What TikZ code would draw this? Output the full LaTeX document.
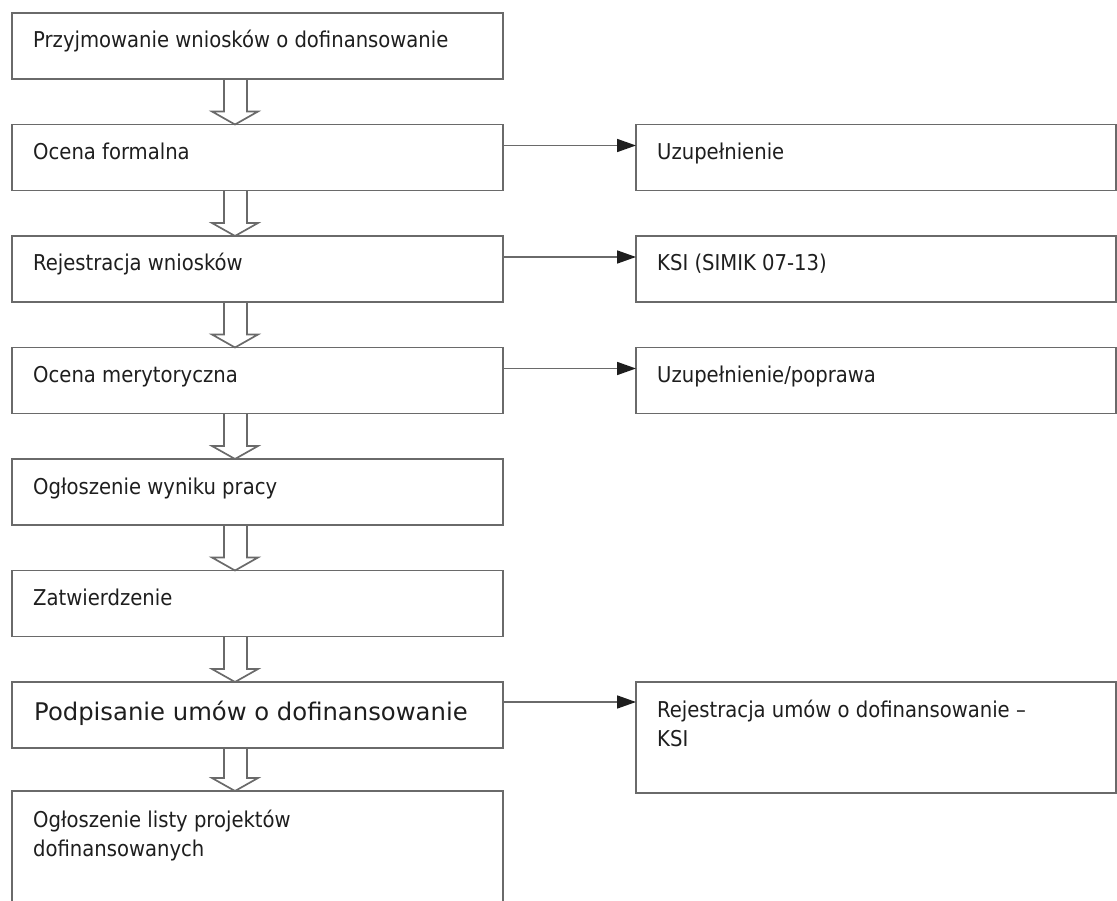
\documentclass[tikz,border=0pt]{standalone}
\usepackage{fontspec}
\setmainfont{DejaVu Sans Condensed}
\newfontfamily\widefont{DejaVu Sans}
\usetikzlibrary{positioning,arrows.meta}
\definecolor{boxgray}{HTML}{6A6A6A}
\definecolor{textgray}{HTML}{1E1E1E}

\begin{document}
\begin{tikzpicture}[
    box/.style={draw=boxgray, line width=1.7pt, minimum width=491pt, minimum height=66pt, inner sep=0pt, outer sep=0pt},
    sidebox/.style={box, minimum width=480pt},
    txt/.style={anchor=base west, inner sep=0pt, text=textgray, align=left, font=\fontsize{21.8}{29}\selectfont},
    hollow/.style={draw=boxgray, line width=1.7pt, line join=miter},
    link/.style={draw=boxgray, line width=1.7pt, -{Triangle[length=19pt,width=13pt,color=textgray]}}]
    \useasboundingbox (0,0) rectangle (1117pt,-901pt);
    \clip (0,0) rectangle (1117pt,-901pt);

    % hollow arrow from the bottom of #1 to the top of #2
    \def\hollowarrow#1#2{\draw[hollow] ([xshift=212pt]#1.south west) -- ([shift={(212pt,13pt)}]#2.north west) -- ++(-12pt,0) -- ([xshift=223pt]#2.north west) -- ++(23pt,13pt) -- ++(-11pt,0) -- ([xshift=235pt]#1.south west);}

    % main column of steps
    \node[box, anchor=north west] (przyj) at (12pt,-13pt) {};
    \node[box, below=45.5pt of przyj] (formal) {};
    \node[box, below=45.5pt of formal] (rejw) {};
    \node[box, below=45.5pt of rejw] (meryt) {};
    \node[box, below=45.5pt of meryt] (wynik) {};
    \node[box, below=45.5pt of wynik] (zatw) {};
    \node[box, below=45.5pt of zatw] (podp) {};
    \node[box, minimum height=150pt, below=43pt of podp.south west, anchor=north west] (lista) {};

    % side boxes
    \node[sidebox, right=133pt of formal] (uzup) {};
    \node[sidebox, right=133pt of rejw] (ksi) {};
    \node[sidebox, right=133pt of meryt] (popr) {};
    \node[sidebox, minimum height=111pt, right=133pt of podp.north east, anchor=north west] (rejum) {};

    % texts (two-line ones sit on the baseline of their last line)
    \node[txt] (t1) at ([shift={(21pt,-35pt)}]przyj.north west) {Przyjmowanie wniosków o dofinansowanie};
    \node[txt] (t2) at ([shift={(21pt,-35pt)}]formal.north west) {Ocena formalna};
    \node[txt] (t3) at ([shift={(21pt,-35pt)}]rejw.north west) {Rejestracja wniosków};
    \node[txt] (t4) at ([shift={(21pt,-35pt)}]meryt.north west) {Ocena merytoryczna};
    \node[txt] (t5) at ([shift={(21pt,-35pt)}]wynik.north west) {Ogłoszenie wyniku pracy};
    \node[txt] (t6) at ([shift={(21pt,-35pt)}]zatw.north west) {Zatwierdzenie};
    \node[txt, font=\widefont\fontsize{24.3}{29}\selectfont] (t7) at ([shift={(22pt,-38pt)}]podp.north west) {Podpisanie umów o dofinansowanie};
    \node[txt] (t8) at ([shift={(21pt,-65pt)}]lista.north west) {Ogłoszenie listy projektów\\dofinansowanych};
    \node[txt] (s1) at ([shift={(21pt,-35pt)}]uzup.north west) {Uzupełnienie};
    \node[txt] (s2) at ([shift={(21pt,-35pt)}]ksi.north west) {KSI (SIMIK 07-13)};
    \node[txt] (s3) at ([shift={(21pt,-35pt)}]popr.north west) {Uzupełnienie/poprawa};
    \node[txt] (s4) at ([shift={(21pt,-64pt)}]rejum.north west) {Rejestracja umów o dofinansowanie –\\KSI};

    % flow
    \hollowarrow{przyj}{formal}
    \hollowarrow{formal}{rejw}
    \hollowarrow{rejw}{meryt}
    \hollowarrow{meryt}{wynik}
    \hollowarrow{wynik}{zatw}
    \hollowarrow{zatw}{podp}
    \hollowarrow{podp}{lista}

    % side links
    \draw[link] ([yshift=-21pt]formal.north east) -- ([yshift=-21pt]uzup.north west);
    \draw[link] ([yshift=-21pt]rejw.north east) -- ([yshift=-21pt]ksi.north west);
    \draw[link] ([yshift=-21pt]meryt.north east) -- ([yshift=-21pt]popr.north west);
    \draw[link] ([yshift=-20pt]podp.north east) -- ([yshift=-20pt]rejum.north west);
\end{tikzpicture}
\end{document}
